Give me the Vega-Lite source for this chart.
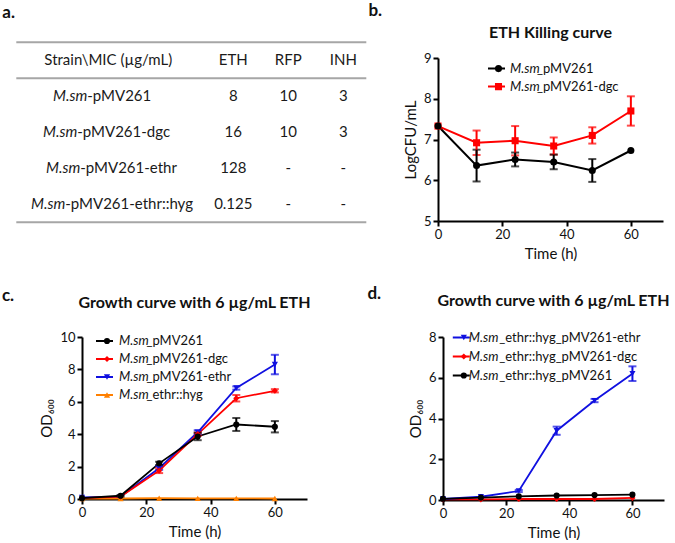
{
  "$schema": "https://vega.github.io/schema/vega-lite/v6.json",
  "padding": {"left": 1, "top": 2, "right": 0, "bottom": 0},
  "datasets": {
    "tbl": [
      {"row": "1", "pre": "M.sm", "suf": "-pMV261", "ETH": "8", "RFP": "10", "INH": "3"},
      {"row": "2", "pre": "M.sm", "suf": "-pMV261-dgc", "ETH": "16", "RFP": "10", "INH": "3"},
      {"row": "3", "pre": "M.sm", "suf": "-pMV261-ethr", "ETH": "128", "RFP": "-", "INH": "-"},
      {"row": "4", "pre": "M.sm", "suf": "-pMV261-ethr::hyg", "ETH": "0.125", "RFP": "-", "INH": "-"}
    ],
    "hdr": [
      {"row": "h", "col": "Strain", "text": "Strain\\MIC (µg/mL)"},
      {"row": "h", "col": "ETH", "text": "ETH"},
      {"row": "h", "col": "RFP", "text": "RFP"},
      {"row": "h", "col": "INH", "text": "INH"}
    ],
    "b": [
      {"t": 0, "s": "M.sm_pMV261-dgc", "m": 7.33, "e": 0},
      {"t": 12, "s": "M.sm_pMV261-dgc", "m": 6.92, "e": 0.3},
      {"t": 24, "s": "M.sm_pMV261-dgc", "m": 6.97, "e": 0.36},
      {"t": 36, "s": "M.sm_pMV261-dgc", "m": 6.84, "e": 0.21},
      {"t": 48, "s": "M.sm_pMV261-dgc", "m": 7.1, "e": 0.2},
      {"t": 60, "s": "M.sm_pMV261-dgc", "m": 7.7, "e": 0.36},
      {"t": 0, "s": "M.sm_pMV261", "m": 7.33, "e": 0},
      {"t": 12, "s": "M.sm_pMV261", "m": 6.36, "e": 0.39},
      {"t": 24, "s": "M.sm_pMV261", "m": 6.51, "e": 0.17},
      {"t": 36, "s": "M.sm_pMV261", "m": 6.45, "e": 0.18},
      {"t": 48, "s": "M.sm_pMV261", "m": 6.24, "e": 0.28},
      {"t": 60, "s": "M.sm_pMV261", "m": 6.73, "e": 0}
    ],
    "c": [
      {"t": 0, "s": "M.sm_ethr::hyg", "m": 0.02, "e": 0},
      {"t": 12, "s": "M.sm_ethr::hyg", "m": 0.03, "e": 0},
      {"t": 24, "s": "M.sm_ethr::hyg", "m": 0.05, "e": 0},
      {"t": 36, "s": "M.sm_ethr::hyg", "m": 0.04, "e": 0},
      {"t": 48, "s": "M.sm_ethr::hyg", "m": 0.04, "e": 0},
      {"t": 60, "s": "M.sm_ethr::hyg", "m": 0.03, "e": 0},
      {"t": 0, "s": "M.sm_pMV261-ethr", "m": 0.1, "e": 0},
      {"t": 12, "s": "M.sm_pMV261-ethr", "m": 0.15, "e": 0},
      {"t": 24, "s": "M.sm_pMV261-ethr", "m": 1.9, "e": 0.1},
      {"t": 36, "s": "M.sm_pMV261-ethr", "m": 4.12, "e": 0.12},
      {"t": 48, "s": "M.sm_pMV261-ethr", "m": 6.85, "e": 0.1},
      {"t": 60, "s": "M.sm_pMV261-ethr", "m": 8.3, "e": 0.6},
      {"t": 0, "s": "M.sm_pMV261-dgc", "m": 0.05, "e": 0},
      {"t": 12, "s": "M.sm_pMV261-dgc", "m": 0.15, "e": 0},
      {"t": 24, "s": "M.sm_pMV261-dgc", "m": 1.75, "e": 0.15},
      {"t": 36, "s": "M.sm_pMV261-dgc", "m": 4.0, "e": 0.1},
      {"t": 48, "s": "M.sm_pMV261-dgc", "m": 6.22, "e": 0.2},
      {"t": 60, "s": "M.sm_pMV261-dgc", "m": 6.68, "e": 0.1},
      {"t": 0, "s": "M.sm_pMV261", "m": 0.05, "e": 0},
      {"t": 12, "s": "M.sm_pMV261", "m": 0.2, "e": 0.05},
      {"t": 24, "s": "M.sm_pMV261", "m": 2.2, "e": 0.1},
      {"t": 36, "s": "M.sm_pMV261", "m": 3.86, "e": 0.23},
      {"t": 48, "s": "M.sm_pMV261", "m": 4.6, "e": 0.4},
      {"t": 60, "s": "M.sm_pMV261", "m": 4.46, "e": 0.35}
    ],
    "d": [
      {"t": 0, "s": "M.sm_ethr::hyg_pMV261-dgc", "m": 0.03, "e": 0},
      {"t": 12, "s": "M.sm_ethr::hyg_pMV261-dgc", "m": 0.03, "e": 0},
      {"t": 24, "s": "M.sm_ethr::hyg_pMV261-dgc", "m": 0.05, "e": 0},
      {"t": 36, "s": "M.sm_ethr::hyg_pMV261-dgc", "m": 0.05, "e": 0},
      {"t": 48, "s": "M.sm_ethr::hyg_pMV261-dgc", "m": 0.05, "e": 0},
      {"t": 60, "s": "M.sm_ethr::hyg_pMV261-dgc", "m": 0.1, "e": 0},
      {"t": 0, "s": "M.sm_ethr::hyg_pMV261-ethr", "m": 0.05, "e": 0},
      {"t": 12, "s": "M.sm_ethr::hyg_pMV261-ethr", "m": 0.16, "e": 0},
      {"t": 24, "s": "M.sm_ethr::hyg_pMV261-ethr", "m": 0.44, "e": 0.05},
      {"t": 36, "s": "M.sm_ethr::hyg_pMV261-ethr", "m": 3.4, "e": 0.2},
      {"t": 48, "s": "M.sm_ethr::hyg_pMV261-ethr", "m": 4.88, "e": 0.08},
      {"t": 60, "s": "M.sm_ethr::hyg_pMV261-ethr", "m": 6.2, "e": 0.36},
      {"t": 0, "s": "M.sm_ethr::hyg_pMV261", "m": 0.06, "e": 0},
      {"t": 12, "s": "M.sm_ethr::hyg_pMV261", "m": 0.12, "e": 0},
      {"t": 24, "s": "M.sm_ethr::hyg_pMV261", "m": 0.18, "e": 0},
      {"t": 36, "s": "M.sm_ethr::hyg_pMV261", "m": 0.22, "e": 0},
      {"t": 48, "s": "M.sm_ethr::hyg_pMV261", "m": 0.24, "e": 0},
      {"t": 60, "s": "M.sm_ethr::hyg_pMV261", "m": 0.26, "e": 0}
    ]
  },
  "config": {
    "font": "Lato",
    "view": {"stroke": null},
    "axis": {"domainColor": "#000", "domainWidth": 2, "tickColor": "#000", "tickWidth": 2, "tickSize": 5, "labelFontSize": 13, "labelColor": "#111", "titleFontSize": 15, "titleFontWeight": "normal", "titleColor": "#111", "grid": false, "labelPadding": 2, "labelFlush": false, "titlePadding": 5},
    "title": {"fontSize": 16, "fontWeight": "bold", "color": "#111"},
    "legend": {"title": null, "padding": 0, "rowPadding": 0, "labelFontSize": 13, "labelColor": "#111", "labelLimit": 300, "clipHeight": 18, "symbolOpacity": 1}
  },
  "resolve": {"scale": {"color": "independent", "fill": "independent", "shape": "independent"}},
  "spacing": 23,
  "vconcat": [
    {
      "spacing": 0,
      "resolve": {"scale": {"color": "independent", "fill": "independent", "shape": "independent"}},
      "hconcat": [
        {
          "title": {"text": "a.", "anchor": "start", "frame": "bounds", "fontSize": 17, "dx": -13, "offset": 19},
          "width": 284,
          "height": 164,
          "resolve": {"scale": {"x": "independent", "y": "independent"}},
          "layer": [
            {
              "data": {"values": [{"row": "t"}, {"row": "h"}, {"row": "4"}]},
              "mark": {"type": "rule", "color": "#a6a6a6", "strokeWidth": 2},
              "encoding": {
                "x": {"datum": 0, "type": "quantitative", "scale": {"domain": [0, 1], "range": [-65.7, 284.3], "nice": false, "zero": false}, "axis": null},
                "x2": {"datum": 1},
                "y": {"field": "row", "type": "nominal", "scale": {"type": "point", "domain": ["t", "h", "a", "b", "c", "4"], "range": [-15.7, 164.3], "padding": 0}, "axis": null}
              }
            },
            {
              "encoding": {
                "y": {"field": "row", "type": "nominal", "scale": {"type": "band", "domain": ["h", "1", "2", "3", "4"], "range": [-15.7, 164.3], "paddingInner": 0, "paddingOuter": 0}, "axis": null}
              },
              "layer": [
                {"data": {"name": "hdr"}, "transform": [{"filter": "datum.col !== 'Strain'"}], "mark": {"type": "text", "fontSize": 15, "color": "#1a1a1a"}, "encoding": {"x": {"field": "col", "type": "nominal", "scale": {"type": "point", "domain": ["Strain", "_", "ETH", "RFP", "INH"], "range": [41.3, 261.3], "padding": 0}, "axis": null}, "text": {"field": "text"}}},
                {"data": {"name": "hdr"}, "transform": [{"filter": "datum.col === 'Strain'"}], "mark": {"type": "text", "fontSize": 15, "color": "#1a1a1a", "dx": -15}, "encoding": {"x": {"field": "col", "type": "nominal", "axis": null}, "text": {"field": "text"}}},
                {"data": {"name": "tbl"}, "transform": [{"fold": ["ETH", "RFP", "INH"], "as": ["col", "val"]}], "mark": {"type": "text", "fontSize": 15, "color": "#1a1a1a"}, "encoding": {"x": {"field": "col", "type": "nominal", "axis": null}, "text": {"field": "val"}}},
                {"data": {"name": "tbl"}, "transform": [{"filter": "datum.row === '1'"}], "mark": {"type": "text", "fontSize": 15, "color": "#1a1a1a", "align": "right", "fontStyle": "italic", "dx": -36}, "encoding": {"x": {"datum": "Strain", "axis": null}, "text": {"field": "pre"}}},
                {"data": {"name": "tbl"}, "transform": [{"filter": "datum.row === '1'"}], "mark": {"type": "text", "fontSize": 15, "color": "#1a1a1a", "align": "left", "dx": -36}, "encoding": {"x": {"datum": "Strain", "axis": null}, "text": {"field": "suf"}}},
                {"data": {"name": "tbl"}, "transform": [{"filter": "datum.row === '2'"}], "mark": {"type": "text", "fontSize": 15, "color": "#1a1a1a", "align": "right", "fontStyle": "italic", "dx": -46}, "encoding": {"x": {"datum": "Strain", "axis": null}, "text": {"field": "pre"}}},
                {"data": {"name": "tbl"}, "transform": [{"filter": "datum.row === '2'"}], "mark": {"type": "text", "fontSize": 15, "color": "#1a1a1a", "align": "left", "dx": -46}, "encoding": {"x": {"datum": "Strain", "axis": null}, "text": {"field": "suf"}}},
                {"data": {"name": "tbl"}, "transform": [{"filter": "datum.row === '3'"}], "mark": {"type": "text", "fontSize": 15, "color": "#1a1a1a", "align": "right", "fontStyle": "italic", "dx": -43}, "encoding": {"x": {"datum": "Strain", "axis": null}, "text": {"field": "pre"}}},
                {"data": {"name": "tbl"}, "transform": [{"filter": "datum.row === '3'"}], "mark": {"type": "text", "fontSize": 15, "color": "#1a1a1a", "align": "left", "dx": -43}, "encoding": {"x": {"datum": "Strain", "axis": null}, "text": {"field": "suf"}}},
                {"data": {"name": "tbl"}, "transform": [{"filter": "datum.row === '4'"}], "mark": {"type": "text", "fontSize": 15, "color": "#1a1a1a", "align": "right", "fontStyle": "italic", "dx": -58}, "encoding": {"x": {"datum": "Strain", "axis": null}, "text": {"field": "pre"}}},
                {"data": {"name": "tbl"}, "transform": [{"filter": "datum.row === '4'"}], "mark": {"type": "text", "fontSize": 15, "color": "#1a1a1a", "align": "left", "dx": -58}, "encoding": {"x": {"datum": "Strain", "axis": null}, "text": {"field": "suf"}}}
              ]
            }
          ]
        },
        {
          "title": {"text": "b.", "anchor": "start", "fontSize": 17, "dx": -35, "offset": 5},
          "resolve": {"scale": {"color": "independent", "fill": "independent", "shape": "independent"}},
          "vconcat": [
            {
              "title": {"text": "ETH Killing curve", "offset": 11},
              "width": 225,
              "height": 163,
              "data": {"name": "b"},
              "encoding": {
                "x": {"field": "t", "type": "quantitative", "scale": {"domain": [0, 70], "nice": false}, "axis": {"values": [0, 20, 40, 60], "title": "Time (h)"}},
                "y": {"field": "m", "type": "quantitative", "scale": {"domain": [5, 9], "nice": false, "zero": false}, "axis": {"values": [5, 6, 7, 8, 9], "title": "LogCFU/mL"}}
              },
              "layer": [
                {"mark": {"type": "line", "strokeWidth": 2},
                  "encoding": {"color": {"field": "s", "type": "nominal", "scale": {"domain": ["M.sm_pMV261", "M.sm_pMV261-dgc"], "range": ["#000000", "#ff0000"]},
                    "legend": {"orient": "none", "legendX": 49, "legendY": 1.6, "labelExpr": "'M.sm'", "labelFontStyle": "italic", "symbolType": "stroke", "symbolSize": 289, "symbolStrokeWidth": 2, "labelOffset": 4}}}},
                {"transform": [{"filter": "datum.e > 0"}], "mark": {"type": "errorbar", "thickness": 2, "ticks": {"size": 8, "thickness": 2}},
                  "encoding": {"yError": {"field": "e"}, "color": {"field": "s", "type": "nominal"}}},
                {"mark": {"type": "point", "filled": true, "size": 50, "opacity": 1},
                  "encoding": {
                    "fill": {"field": "s", "type": "nominal", "scale": {"domain": ["M.sm_pMV261", "M.sm_pMV261-dgc", "~"], "range": ["#000000", "#ff0000", "#ffffff"]},
                      "legend": {"orient": "none", "legendX": 54, "legendY": 1.6, "values": ["M.sm_pMV261", "M.sm_pMV261-dgc"], "labelExpr": "slice(datum.label, 4)", "symbolSize": 50, "symbolStrokeWidth": 0, "labelOffset": 32}},
                    "shape": {"field": "s", "type": "nominal", "scale": {"domain": ["M.sm_pMV261", "M.sm_pMV261-dgc", "~"], "range": ["circle", "square", "circle"]}}}}
              ]
            }
          ]
        }
      ]
    },
    {
      "spacing": 56,
      "resolve": {"scale": {"color": "independent", "fill": "independent", "shape": "independent"}},
      "hconcat": [
        {
          "title": {"text": "c.", "anchor": "start", "fontSize": 17, "dx": -38, "dy": 10, "offset": 0},
          "resolve": {"scale": {"color": "independent", "fill": "independent", "shape": "independent"}},
          "vconcat": [
            {
              "title": {"text": "Growth curve with 6 µg/mL ETH", "offset": 20},
              "width": 225,
              "height": 162,
              "data": {"name": "c"},
              "encoding": {
                "x": {"field": "t", "type": "quantitative", "scale": {"domain": [0, 70], "nice": false}, "axis": {"values": [0, 20, 40, 60], "title": "Time (h)"}},
                "y": {"field": "m", "type": "quantitative", "scale": {"domain": [0, 10], "nice": false}, "axis": {"values": [0, 2, 4, 6, 8, 10], "title": "OD₆₀₀"}}
              },
              "layer": [
                {"mark": {"type": "line", "strokeWidth": 1.8},
                  "encoding": {"color": {"field": "s", "type": "nominal", "scale": {"domain": ["M.sm_pMV261", "M.sm_pMV261-dgc", "M.sm_pMV261-ethr", "M.sm_ethr::hyg"], "range": ["#000000", "#ff0000", "#1010e0", "#ff8000"]},
                    "legend": {"orient": "none", "legendX": 13, "legendY": -5, "labelExpr": "'M.sm'", "labelFontStyle": "italic", "symbolType": "stroke", "symbolSize": 289, "symbolStrokeWidth": 2, "labelOffset": 5}}}},
                {"transform": [{"filter": "datum.e > 0"}], "mark": {"type": "errorbar", "thickness": 2, "ticks": {"size": 8, "thickness": 2}},
                  "encoding": {"yError": {"field": "e"}, "color": {"field": "s", "type": "nominal"}}},
                {"mark": {"type": "point", "filled": true, "size": 38, "opacity": 1},
                  "encoding": {
                    "fill": {"field": "s", "type": "nominal", "scale": {"domain": ["M.sm_pMV261", "M.sm_pMV261-dgc", "M.sm_pMV261-ethr", "M.sm_ethr::hyg", "~"], "range": ["#000000", "#ff0000", "#1010e0", "#ff8000", "#ffffff"]},
                      "legend": {"orient": "none", "legendX": 18.5, "legendY": -5, "values": ["M.sm_pMV261", "M.sm_pMV261-dgc", "M.sm_pMV261-ethr", "M.sm_ethr::hyg"], "labelExpr": "slice(datum.label, 4)", "symbolSize": 38, "symbolStrokeWidth": 0, "labelOffset": 33}},
                    "shape": {"field": "s", "type": "nominal", "scale": {"domain": ["M.sm_pMV261", "M.sm_pMV261-dgc", "M.sm_pMV261-ethr", "M.sm_ethr::hyg", "~"], "range": ["circle", "diamond", "triangle-down", "triangle-up", "circle"]}}}}
              ]
            }
          ]
        },
        {
          "title": {"text": "d.", "anchor": "start", "fontSize": 17, "dx": -41, "dy": 10, "offset": 0},
          "resolve": {"scale": {"color": "independent", "fill": "independent", "shape": "independent"}},
          "vconcat": [
            {
              "title": {"text": "Growth curve with 6 µg/mL ETH", "offset": 20},
              "width": 221,
              "height": 163,
              "data": {"name": "d"},
              "encoding": {
                "x": {"field": "t", "type": "quantitative", "scale": {"domain": [0, 70], "nice": false}, "axis": {"values": [0, 20, 40, 60], "title": "Time (h)"}},
                "y": {"field": "m", "type": "quantitative", "scale": {"domain": [0, 8], "nice": false}, "axis": {"values": [0, 2, 4, 6, 8], "title": "OD₆₀₀"}}
              },
              "layer": [
                {"mark": {"type": "line", "strokeWidth": 1.8},
                  "encoding": {"color": {"field": "s", "type": "nominal", "scale": {"domain": ["M.sm_ethr::hyg_pMV261-ethr", "M.sm_ethr::hyg_pMV261-dgc", "M.sm_ethr::hyg_pMV261"], "range": ["#1010e0", "#ff0000", "#000000"]},
                    "legend": {"orient": "none", "legendX": 8.8, "legendY": -8.5, "rowPadding": 1, "labelExpr": "'M.sm'", "labelFontStyle": "italic", "symbolType": "stroke", "symbolSize": 289, "symbolStrokeWidth": 2, "labelOffset": -2}}}},
                {"transform": [{"filter": "datum.e > 0"}], "mark": {"type": "errorbar", "thickness": 2, "ticks": {"size": 8, "thickness": 2}},
                  "encoding": {"yError": {"field": "e"}, "color": {"field": "s", "type": "nominal"}}},
                {"mark": {"type": "point", "filled": true, "size": 38, "opacity": 1},
                  "encoding": {
                    "fill": {"field": "s", "type": "nominal", "scale": {"domain": ["M.sm_ethr::hyg_pMV261-ethr", "M.sm_ethr::hyg_pMV261-dgc", "M.sm_ethr::hyg_pMV261", "~"], "range": ["#1010e0", "#ff0000", "#000000", "#ffffff"]},
                      "legend": {"orient": "none", "legendX": 14.3, "legendY": -8.5, "rowPadding": 1, "values": ["M.sm_ethr::hyg_pMV261-ethr", "M.sm_ethr::hyg_pMV261-dgc", "M.sm_ethr::hyg_pMV261"], "labelExpr": "slice(datum.label, 4)", "symbolSize": 38, "symbolStrokeWidth": 0, "labelOffset": 29}},
                    "shape": {"field": "s", "type": "nominal", "scale": {"domain": ["M.sm_ethr::hyg_pMV261-ethr", "M.sm_ethr::hyg_pMV261-dgc", "M.sm_ethr::hyg_pMV261", "~"], "range": ["triangle-down", "diamond", "circle", "circle"]}}}}
              ]
            }
          ]
        }
      ]
    }
  ]
}
